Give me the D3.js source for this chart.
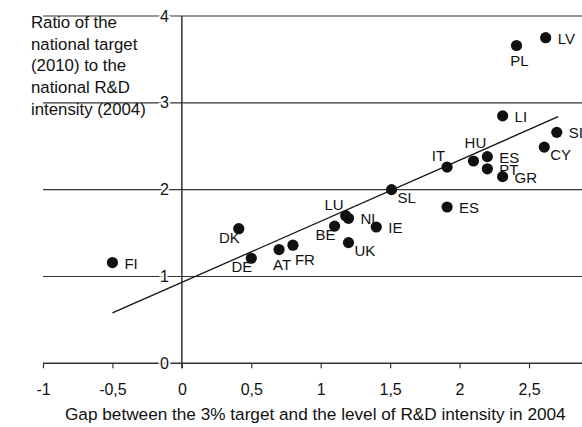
<!DOCTYPE html>
<html>
<head>
<meta charset="utf-8">
<script src="https://cdn.jsdelivr.net/npm/d3@7"></script>
<style>
  body { margin: 0; background: #fff; }
  svg { display: block; font-family: "Liberation Sans", Arial, sans-serif; }
</style>
</head>
<body>
<div id="chart"></div>
<script>
// country codes, gap to the 3% target (x) and target/intensity ratio (y)
var countries = ["FI","DK","DE","AT","FR","BE","LU","NL","IE","UK","SL","ES","IT","HU","ES","PT","GR","LI","CY","SI","PL","LV"];
var gapValues = [-0.5, 0.41, 0.50, 0.70, 0.80, 1.10, 1.18, 1.20, 1.40, 1.20, 1.51, 1.91, 1.91, 2.10, 2.20, 2.20, 2.31, 2.31, 2.61, 2.70, 2.41, 2.62];
var ratioValues = [1.16, 1.55, 1.21, 1.31, 1.36, 1.58, 1.70, 1.67, 1.57, 1.39, 2.00, 1.80, 2.26, 2.33, 2.38, 2.24, 2.15, 2.85, 2.49, 2.66, 3.66, 3.75];
// where each label sits around its point
var labelSide = ["e","sw","sw","s","sse","sw","nw","e","e","se","se","e","nw","n","e","e","e","e","se","e","s","e"];

// fitted line, read at its two ends
var trendGap = [-0.5, 2.71];
var trendRatio = [0.58, 2.84];

var xTicks = [-1, -0.5, 0, 0.5, 1, 1.5, 2, 2.5];
var yTicks = [0, 1, 2, 3, 4];

var yTitle = ["Ratio of the", "national target", "(2010) to the", "national R&D", "intensity (2004)"];
var xTitle = "Gap between the 3% target and the level of R&D intensity in 2004";

var width = 582, height = 427;
var ink = "#111";

var x = d3.scaleLinear().domain([-1, 2.5]).range([43, 529]);
var y = d3.scaleLinear().domain([0, 4]).range([363.3, 16]);

var svg = d3.select("#chart").append("svg")
    .attr("width", width)
    .attr("height", height);

// horizontal grid lines
svg.selectAll(".grid")
    .data(yTicks.slice(1))
    .enter()
    .append("line")
    .attr("class", "grid")
    .attr("x1", x(-1)).attr("x2", width)
    .attr("y1", function(d){return y(d);})
    .attr("y2", function(d){return y(d);})
    .attr("stroke", "#333")
    .attr("stroke-width", 1.2);

// x axis line across the whole width
svg.append("line")
    .attr("x1", x(-1)).attr("x2", width)
    .attr("y1", y(0)).attr("y2", y(0))
    .attr("stroke", "#333")
    .attr("stroke-width", 1.4);

var xAxis = svg.append("g")
    .attr("transform", "translate(0," + y(0) + ")")
    .call(d3.axisBottom(x).tickValues(xTicks).tickSize(5).tickPadding(15)
        .tickFormat(function(d){return String(d).replace(".", ",");}));
xAxis.select(".domain").remove();
xAxis.selectAll("line").attr("stroke", "#333").attr("stroke-width", 1.2);
xAxis.selectAll("text")
    .attr("fill", ink)
    .style("font-size", "16px")
    .style("font-family", "Liberation Sans, Arial, sans-serif");

// y axis
svg.append("line")
    .attr("x1", x(0)).attr("x2", x(0))
    .attr("y1", y(4)).attr("y2", y(0) + 5)
    .attr("stroke", "#333")
    .attr("stroke-width", 1.5);

var yAxis = svg.append("g")
    .attr("transform", "translate(" + x(0) + ",0)")
    .call(d3.axisLeft(y).tickValues(yTicks).tickSize(0).tickPadding(13)
        .tickFormat(d3.format("d")));
yAxis.select(".domain").remove();
yAxis.selectAll("text")
    .attr("fill", ink)
    .attr("stroke", "#fff")
    .attr("stroke-width", 4)
    .attr("paint-order", "stroke")
    .style("font-size", "16px")
    .style("font-family", "Liberation Sans, Arial, sans-serif");

// regression line
var line = d3.line()
    .x(function(d){return x(d[0]);})
    .y(function(d){return y(d[1]);});
svg.append("path")
    .datum(d3.zip(trendGap, trendRatio))
    .attr("d", line)
    .attr("fill", "none")
    .attr("stroke", ink)
    .attr("stroke-width", 1.3);

// points
var pts = countries.map(function(c, i){
    return {name: c, gap: gapValues[i], ratio: ratioValues[i], side: labelSide[i]};
});

svg.selectAll(".pt")
    .data(pts)
    .enter()
    .append("circle")
    .attr("class", "pt")
    .attr("cx", function(d){return x(d.gap);})
    .attr("cy", function(d){return y(d.ratio);})
    .attr("r", 5.6)
    .attr("fill", ink);

// label offsets: [dx, dy, anchor]
var offsets = {
    e:   [12, 6, "start"],
    se:  [6, 13, "start"],
    sse: [2, 20, "start"],
    s:   [3, 20, "middle"],
    sw:  [1, 14, "end"],
    nw:  [-2, -6, "end"],
    n:   [2, -13, "middle"]
};

svg.selectAll(".lab")
    .data(pts)
    .enter()
    .append("text")
    .attr("class", "lab")
    .attr("x", function(d){return x(d.gap) + offsets[d.side][0];})
    .attr("y", function(d){return y(d.ratio) + offsets[d.side][1];})
    .attr("text-anchor", function(d){return offsets[d.side][2];})
    .attr("fill", ink)
    .style("font-size", "15px")
    .text(function(d){return d.name;});

// axis titles
svg.append("text")
    .attr("x", 31)
    .attr("fill", ink)
    .style("font-size", "16.8px")
    .selectAll("tspan")
    .data(yTitle)
    .enter()
    .append("tspan")
    .attr("x", 31)
    .attr("y", function(d, i){return 28 + i * 21.7;})
    .text(function(d){return d;});

svg.append("text")
    .attr("x", 65)
    .attr("y", 420)
    .attr("fill", ink)
    .style("font-size", "17.2px")
    .text(xTitle);
</script>
</body>
</html>
